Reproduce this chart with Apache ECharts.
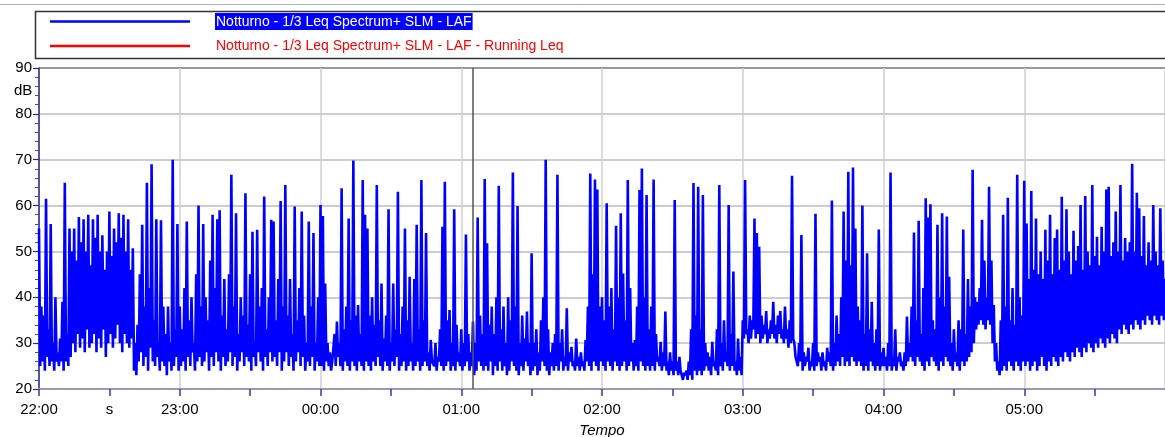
<!DOCTYPE html>
<html>
<head>
<meta charset="utf-8">
<script src="https://cdn.jsdelivr.net/npm/echarts@6/dist/echarts.min.js"></script>
<style>
  html, body { margin: 0; padding: 0; background: #fff; }
  #chart { width: 1165px; height: 437px; }
</style>
</head>
<body>
<div id="chart"></div>
<script>
// LAF levels (dB): hXX = value at each full minute, fXX = low value at the half minute
const h22 = [55, 38, 36, 61.5, 33, 56, 30, 40, 28, 31, 39, 65, 32, 55, 50, 55, 48, 57.5, 52, 57,
  50, 58, 47, 57, 53, 58, 50, 53.5, 46, 50, 58.7, 49, 55, 52, 58.3, 53, 58, 50, 57, 46,
  50.7, 30, 34, 45, 55.8, 38, 65, 42, 69, 35, 57, 30, 56.8, 38, 32, 38, 30, 70, 33, 56];
const f22 = [25, 26, 24, 27, 25, 26, 24, 26, 25, 26, 24, 26, 25, 27, 30, 28, 32, 29, 31, 28,
  33, 29, 30, 32, 28, 31, 29, 33, 27, 30, 32, 29, 31, 34, 30, 28, 32, 30, 29, 31,
  24, 23, 26, 28, 25, 27, 24, 29, 26, 25, 27, 24, 26, 25, 23, 26, 24, 25, 27, 24];
const h23 = [38, 33, 42, 56.5, 35, 40, 30, 45, 60, 38, 56, 40, 35, 48, 58, 42, 57, 59, 36, 44,
  33, 45, 66.7, 38, 58.3, 32, 40, 36, 62.7, 34, 45, 54.3, 30, 54.7, 38, 42, 62, 33, 40, 56.9,
  56.5, 35, 44, 61, 38, 64.5, 36, 44, 32, 59.8, 35, 42, 58.7, 36, 30, 56.5, 38, 54, 30, 40];
const f23 = [25, 26, 24, 27, 25, 28, 24, 26, 27, 25, 26, 28, 24, 27, 25, 28, 26, 24, 27, 25,
  26, 28, 25, 27, 24, 26, 28, 25, 27, 26, 24, 27, 25, 28, 26, 24, 27, 25, 28, 26,
  27, 25, 28, 24, 26, 28, 25, 27, 24, 26, 28, 25, 27, 24, 26, 25, 27, 24, 26, 25];
const h00 = [60.1, 57.7, 43, 30, 28, 26, 32, 34.7, 30, 63.8, 33, 38, 57.2, 35, 69.8, 36, 38.3, 32, 65.6, 58,
  55, 36, 40, 34, 64.5, 35, 43, 31, 36, 59.2, 30, 43, 33, 63, 32, 38, 55, 35, 44.5, 30,
  44, 55.8, 33, 65.6, 35, 54, 28, 30.7, 26, 30, 27, 33, 55.4, 65.2, 35, 37.2, 30, 59.2, 34, 28];
const f00 = [25, 24, 26, 25, 24, 26, 25, 27, 25, 24, 26, 25, 24, 26, 25, 24, 26, 25, 24, 26,
  25, 24, 26, 25, 27, 25, 24, 26, 25, 24, 26, 25, 27, 24, 25, 26, 24, 25, 26, 24,
  25, 26, 24, 25, 26, 25, 24, 26, 25, 24, 26, 25, 24, 25, 26, 24, 25, 24, 26, 25];
const h01 = [33, 30, 53.7, 32, 28, 34.7, 30, 57.4, 36, 32, 65.8, 51.8, 34, 38, 32, 40, 64.3, 33, 38, 30,
  40, 35, 67.2, 38, 59.9, 30, 36, 31, 36.9, 30, 49.6, 30, 33, 28, 35, 40, 70, 33, 28, 30,
  32, 66.7, 30, 33, 27, 37.6, 28, 29.2, 26, 31, 27, 28, 26, 30.7, 38, 67, 45, 65.7, 63.5, 38];
const f01 = [24, 25, 26, 24, 25, 23, 24, 26, 25, 24, 25, 24, 26, 23, 25, 24, 26, 24, 25, 23,
  24, 26, 25, 24, 23, 25, 24, 26, 25, 23, 24, 25, 23, 24, 26, 25, 24, 23, 25, 24,
  25, 24, 26, 24, 25, 24, 26, 25, 24, 25, 24, 25, 24, 26, 25, 24, 26, 25, 24, 26];
const h02 = [40, 35, 60.5, 38, 42, 33, 55.6, 40, 58.3, 45.2, 35, 65.6, 42, 30, 30.7, 38, 63.4, 68.1, 40, 62.3,
  33, 38, 65.7, 32, 27, 30.3, 28, 36.9, 26, 28, 26, 61.2, 26, 27, 24, 23.5, 24, 26, 33, 64.9,
  36, 64.1, 33, 62.3, 30, 28, 27, 30.3, 26, 33, 64.5, 30, 35, 28, 60.1, 32, 45.6, 26, 31, 27];
const f02 = [25, 24, 26, 25, 24, 26, 25, 24, 25, 26, 24, 25, 26, 24, 25, 24, 26, 25, 24, 25,
  24, 25, 24, 26, 25, 24, 25, 24, 23, 24, 23, 24, 23, 24, 22, 23, 22, 23, 22, 24,
  23, 24, 23, 24, 25, 24, 23, 25, 24, 23, 25, 24, 26, 25, 24, 25, 24, 23, 24, 23];
const h03 = [35, 65.6, 33, 36, 35, 57.2, 54, 51, 36, 34, 37, 33, 35, 39, 34, 36, 37, 33, 38, 33,
  35, 66.5, 30, 27, 30, 53.6, 28, 27, 29, 26, 30, 58.2, 28, 27, 28, 26, 29, 28, 61.1, 30,
  36, 32, 40, 58.7, 48, 67.4, 47, 68.3, 55, 38, 35, 60, 32, 49.6, 33, 39, 30, 33, 54.8, 28];
const f03 = [31, 32, 30, 31, 33, 31, 32, 30, 31, 32, 30, 31, 32, 31, 30, 32, 31, 30, 31, 29,
  30, 31, 27, 25, 26, 24, 25, 26, 24, 25, 24, 25, 26, 24, 25, 24, 26, 25, 24, 25,
  26, 25, 27, 25, 26, 25, 27, 26, 25, 26, 25, 24, 25, 24, 26, 25, 24, 25, 24, 25];
const h04 = [29, 27, 30, 67.2, 27, 33, 27, 28, 26, 28, 35.8, 30, 38, 54.1, 35, 56.7, 32, 42, 61.6, 57.4,
  60.3, 35, 33, 55.8, 40, 58.3, 38, 57.6, 44.5, 30, 33, 28, 35, 33, 54.8, 32, 44, 38, 67.8, 40,
  39, 42, 56.9, 48, 40, 64.1, 48, 38.3, 30, 26, 35, 58, 38, 61.7, 35, 42, 34, 66.7, 40, 36];
const f04 = [25, 24, 25, 24, 25, 24, 26, 25, 24, 25, 26, 27, 26, 25, 27, 26, 25, 24, 26, 25,
  27, 26, 25, 24, 26, 25, 27, 26, 25, 24, 26, 25, 24, 26, 25, 26, 27, 28, 30, 33,
  34, 35, 34, 33, 35, 34, 30, 26, 24, 23, 24, 25, 24, 26, 25, 24, 26, 25, 24, 26];
const h05 = [65.4, 56.1, 44, 63.2, 46, 57.2, 45, 50, 44, 54.7, 48, 58, 45, 52.9, 54.8, 46, 61.9, 48, 59.2, 50,
  45, 54.5, 48, 51.2, 60.1, 46, 62.1, 50, 47, 64.5, 49, 53.2, 47, 55.4, 50, 63.5, 64.1, 49, 52, 58.7,
  50, 64.5, 48, 52.9, 50, 52, 69.1, 50, 62.8, 59.4, 49, 57.7, 47, 52, 48, 60.1, 50, 47, 59.4, 48, 44];
const f05 = [25, 26, 24, 25, 26, 24, 25, 27, 25, 24, 26, 25, 27, 26, 25, 27, 26, 28, 27, 26,
  28, 27, 29, 28, 27, 29, 28, 30, 29, 28, 30, 29, 31, 30, 29, 31, 30, 32, 31, 30,
  33, 32, 34, 33, 32, 34, 33, 35, 34, 33, 35, 34, 36, 35, 34, 36, 35, 34, 36, 35];

const hours = [[h22, f22], [h23, f23], [h00, f00], [h01, f01], [h02, f02], [h03, f03], [h04, f04], [h05, f05]];
const startHour = 22;
const cursorMinute = 185; // vertical cursor, 01:05

const lafData = [];
hours.forEach(([top, low], h) => {
  top.forEach((v, i) => {
    lafData.push([h * 60 + i, v]);
    if (low[i] !== undefined) lafData.push([h * 60 + i + 0.5, low[i]]);
  });
});

const nameLaf = 'Notturno - 1/3 Leq Spectrum+ SLM - LAF';
const nameLeq = 'Notturno - 1/3 Leq Spectrum+ SLM - LAF - Running Leq';
const font = '"Liberation Sans Narrow", "Liberation Sans", Arial, sans-serif';

var myChart = echarts.init(document.getElementById('chart'));

var option = {
  animation: false,
  backgroundColor: '#fff',
  graphic: [
    { type: 'line', shape: { x1: 0, y1: 4.5, x2: 1165, y2: 4.5 }, style: { stroke: '#9fb7d6', lineWidth: 1 }, z: 0 },
    { type: 'rect', shape: { x: 35.5, y: 11.5, width: 1140, height: 47 }, style: { fill: '#fff', stroke: '#333', lineWidth: 1.5 }, z: 0 },
    { type: 'text', left: 14, top: 83, style: { text: 'dB', fontFamily: font, fontSize: 15, fill: '#000' }, z: 5 }
  ],
  legend: {
    orient: 'vertical',
    left: 45,
    top: 8,
    icon: 'rect',
    itemWidth: 140,
    itemHeight: 2.5,
    itemGap: 9,
    data: [nameLaf, nameLeq],
    formatter: function (name) {
      return name === nameLaf ? '{gap|}{hl|' + name + '}' : '{gap|}{red|' + name + '}';
    },
    textStyle: {
      fontFamily: font,
      fontSize: 14,
      rich: {
        gap: { width: 20 },
        hl: { backgroundColor: '#0000ff', color: '#fff', padding: [2, 1, 1, 1], fontFamily: font, fontSize: 14 },
        red: { color: '#ff0000', padding: [2, 1, 1, 1], fontFamily: font, fontSize: 14 }
      }
    }
  },
  grid: { left: 39, right: 0, top: 68, bottom: 48, containLabel: false, outerBoundsMode: 'none' },
  xAxis: {
    type: 'value',
    min: 0,
    max: 480,
    interval: 30,
    name: 'Tempo',
    nameLocation: 'middle',
    nameGap: 34,
    nameTextStyle: { fontFamily: font, fontSize: 15, fontStyle: 'italic', color: '#000' },
    axisLine: { lineStyle: { color: '#9a9ab8', width: 2 } },
    axisTick: { length: 7, lineStyle: { color: '#3a3a9a', width: 1.5 } },
    axisLabel: {
      margin: 13,
      fontFamily: font,
      fontSize: 15,
      color: '#000',
      showMaxLabel: false,
      formatter: function (v) {
        if (v >= 480) return '';
        if (v === 30) return 's';
        if (v % 60 !== 0) return '';
        const h = (startHour + v / 60) % 24;
        return (h < 10 ? '0' : '') + h + ':00';
      }
    },
    splitLine: { show: true, lineStyle: { color: ['#cfcfcf', 'rgba(0,0,0,0)'], width: 1.5 } }
  },
  yAxis: {
    type: 'value',
    min: 20,
    max: 90,
    interval: 10,
    axisLine: { show: true, lineStyle: { color: '#2a2a8a', width: 1.5 } },
    axisTick: { length: 6, lineStyle: { color: '#2a2a8a', width: 1.2 } },
    minorTick: { show: true, splitNumber: 5, length: 4, lineStyle: { color: '#4a4aa0', width: 1 } },
    axisLabel: { margin: 7, fontFamily: font, fontSize: 15, color: '#000' },
    splitLine: {
      show: true,
      lineStyle: { color: ['#bbb', '#cdcdcd', '#cdcdcd', '#cdcdcd', '#cdcdcd', '#cdcdcd', '#cdcdcd', '#999'], width: 2 }
    }
  },
  series: [
    {
      name: nameLaf,
      type: 'line',
      data: lafData,
      showSymbol: false,
      symbol: 'none',
      color: '#0000ff',
      lineStyle: { color: '#0000ff', width: 2.6 },
      markLine: {
        silent: true,
        symbol: 'none',
        label: { show: false },
        lineStyle: { color: '#555', width: 1.5, type: 'solid' },
        data: [{ xAxis: cursorMinute }]
      }
    },
    {
      name: nameLeq,
      type: 'line',
      data: [],
      showSymbol: false,
      color: '#ff0000',
      lineStyle: { color: '#ff0000', width: 2.6 }
    }
  ]
};

option && myChart.setOption(option);
</script>
</body>
</html>
